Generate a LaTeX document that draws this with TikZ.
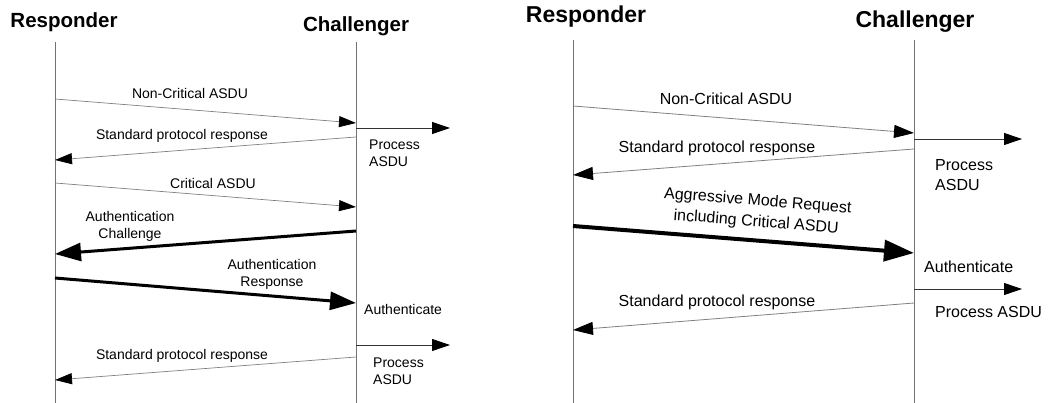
\documentclass[tikz,border=0pt]{standalone}
\usepackage{fontspec}
\setmainfont{Liberation Sans}
\usepackage{tikz}
\usetikzlibrary{arrows.meta, positioning, calc}
\tikzset{
    head/.style={font=\bfseries\fontsize{20.5}{22}\selectfont, inner sep=0pt},
    bighead/.style={font=\bfseries\fontsize{23}{25}\selectfont, inner sep=0pt},
    lbl/.style={font=\fontsize{14}{17}\selectfont, align=center, inner sep=0pt},
    biglbl/.style={font=\fontsize{16}{20}\selectfont, align=center, inner sep=0pt},
    life/.style={draw=black!55, line width=0.9pt},
    msg/.style={draw=black!50, line width=0.7pt, -{Triangle[length=17pt,width=11pt,color=black]}},
    bigmsg/.style={draw=black!50, line width=0.8pt, -{Triangle[length=20pt,width=13pt,color=black]}},
    proc/.style={draw=black!80, line width=0.9pt, -{Triangle[length=18pt,width=12pt,color=black]}},
    authmsg/.style={line width=3pt, -{Triangle[length=26pt,width=18pt]}},
    bigauthmsg/.style={line width=4pt, -{Triangle[length=30pt,width=21pt]}}
}

\begin{document}
\begin{tikzpicture}[x=1pt, y=-1pt, >=stealth]
    \useasboundingbox (0,0) rectangle (1051,403);

    % Left: normal challenge
    \node (l_resp_title) [head] at (64,22) {Responder};
    \node (l_chal_title) [head] at (356,26) {Challenger};
    \coordinate (l_resp_top) at (55,42);
    \coordinate (l_resp_bot) at (55,403);
    \coordinate (l_chal_top) at (356,42);
    \coordinate (l_chal_bot) at (356,403);
    \draw [life] (l_resp_top) -- (l_resp_bot);
    \draw [life] (l_chal_top) -- (l_chal_bot);

    \coordinate (l_nc_from) at (55,99);
    \coordinate (l_nc_to) at (356,123);
    \coordinate (l_proc1_from) at (356,128);
    \coordinate (l_proc1_to) at (450,128);
    \coordinate (l_std1_from) at (356,137);
    \coordinate (l_std1_to) at (55,160);
    \coordinate (l_crit_from) at (55,183);
    \coordinate (l_crit_to) at (356,207);
    \coordinate (l_ac_from) at (356,231);
    \coordinate (l_ac_to) at (55,254);
    \coordinate (l_ar_from) at (55,278);
    \coordinate (l_ar_to) at (356,303);
    \coordinate (l_proc2_from) at (356,345);
    \coordinate (l_proc2_to) at (450,345);
    \coordinate (l_std2_from) at (356,357);
    \coordinate (l_std2_to) at (55,380);

    \draw [msg] (l_nc_from) -- (l_nc_to);
    \draw [proc] (l_proc1_from) -- (l_proc1_to);
    \draw [msg] (l_std1_from) -- (l_std1_to);
    \draw [msg] (l_crit_from) -- (l_crit_to);
    \draw [authmsg] (l_ac_from) -- (l_ac_to);
    \draw [authmsg] (l_ar_from) -- (l_ar_to);
    \draw [proc] (l_proc2_from) -- (l_proc2_to);
    \draw [msg] (l_std2_from) -- (l_std2_to);

    \node (l_nc_lbl) [lbl] at (190,93) {Non-Critical ASDU};
    \node (l_std1_lbl) [lbl] at (182,136) {Standard protocol response};
    \node (l_proc1_lbl) [lbl, anchor=west, align=left] at (369,153) {Process\\ASDU};
    \node (l_crit_lbl) [lbl] at (213,183) {Critical ASDU};
    \node (l_ac_lbl) [lbl] at (130,226) {Authentication\\Challenge};
    \node (l_ar_lbl) [lbl] at (272,274) {Authentication\\Response};
    \node (l_auth_lbl) [lbl, anchor=west] at (364,309) {Authenticate};
    \node (l_proc2_lbl) [lbl, anchor=west, align=left] at (373,371) {Process\\ASDU};
    \node (l_std2_lbl) [lbl] at (182,356) {Standard protocol response};

    % Right: aggressive mode
    \node (r_resp_title) [bighead] at (586,17) {Responder};
    \node (r_chal_title) [bighead] at (915,22) {Challenger};
    \coordinate (r_resp_top) at (573,40);
    \coordinate (r_resp_bot) at (573,403);
    \coordinate (r_chal_top) at (914,40);
    \coordinate (r_chal_bot) at (914,403);
    \draw [life] (r_resp_top) -- (r_resp_bot);
    \draw [life] (r_chal_top) -- (r_chal_bot);

    \coordinate (r_nc_from) at (573,106);
    \coordinate (r_nc_to) at (914,133);
    \coordinate (r_proc1_from) at (914,139);
    \coordinate (r_proc1_to) at (1022,139);
    \coordinate (r_std1_from) at (914,149);
    \coordinate (r_std1_to) at (573,175);
    \coordinate (r_agg_from) at (573,226);
    \coordinate (r_agg_to) at (914,253);
    \coordinate (r_proc2_from) at (914,289);
    \coordinate (r_proc2_to) at (1022,289);
    \coordinate (r_std2_from) at (914,303);
    \coordinate (r_std2_to) at (573,330);

    \draw [bigmsg] (r_nc_from) -- (r_nc_to);
    \draw [proc] (r_proc1_from) -- (r_proc1_to);
    \draw [bigmsg] (r_std1_from) -- (r_std1_to);
    \draw [bigauthmsg] (r_agg_from) -- (r_agg_to);
    \draw [proc] (r_proc2_from) -- (r_proc2_to);
    \draw [bigmsg] (r_std2_from) -- (r_std2_to);

    \node (r_nc_lbl) [biglbl] at (726,99) {Non-Critical ASDU};
    \node (r_std1_lbl) [biglbl] at (717,148) {Standard protocol response};
    \node (r_proc1_lbl) [biglbl, anchor=west, align=left] at (935,175) {Process\\ASDU};
    \node (r_agg_lbl) [biglbl, rotate=-4.5] at (757,212) {Aggressive Mode Request\\[1pt]including Critical ASDU};
    \node (r_auth_lbl) [biglbl, anchor=west] at (924,267) {Authenticate};
    \node (r_proc2_lbl) [biglbl, anchor=west] at (935,312) {Process ASDU};
    \node (r_std2_lbl) [biglbl] at (717,302) {Standard protocol response};
\end{tikzpicture}
\end{document}
